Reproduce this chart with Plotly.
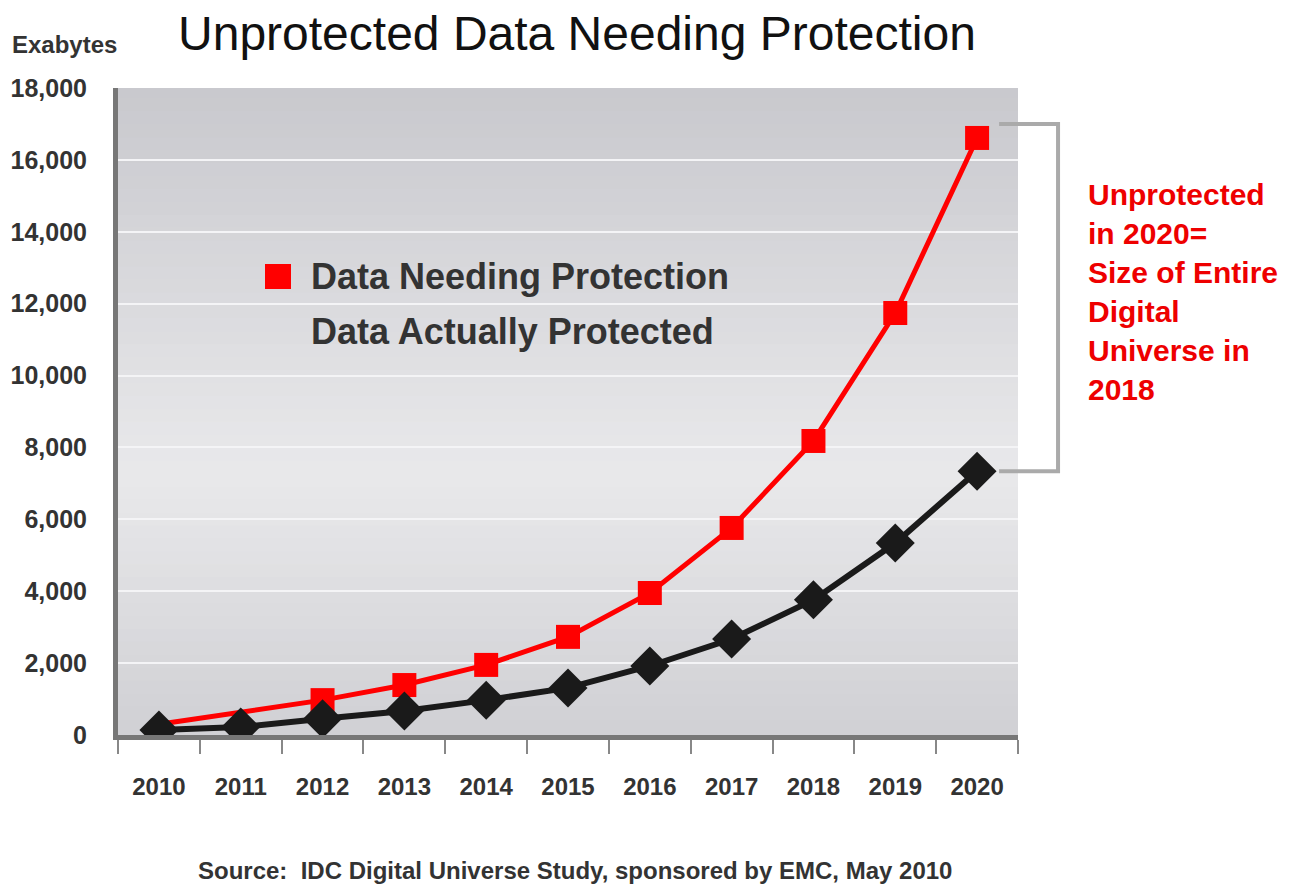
import plotly.graph_objects as go

years = ["2010", "2011", "2012", "2013", "2014", "2015", "2016", "2017", "2018", "2019", "2020"]
needing = [300, 650, 970, 1390, 1950, 2730, 3950, 5760, 8180, 11740, 16610]
protected = [140, 220, 450, 670, 970, 1310, 1920, 2670, 3760, 5340, 7340]
y_ticks = [0, 2000, 4000, 6000, 8000, 10000, 12000, 14000, 16000, 18000]
y_tick_text = ["0", "2,000", "4,000", "6,000", "8,000", "10,000", "12,000", "14,000", "16,000", "18,000"]

FONT = "Liberation Sans, Arial, sans-serif"

fig = go.Figure()
fig.add_trace(go.Scatter(
    x=years, y=needing, mode="lines+markers", name="Data Needing Protection",
    line=dict(color="#ff0000", width=5),
    marker=dict(symbol="square", size=[0, 0] + [24] * 9, color="#ff0000", opacity=1, line=dict(width=0)),
))
fig.add_trace(go.Scatter(
    x=years, y=protected, mode="lines+markers", name="Data Actually Protected",
    line=dict(color="#1a1a1a", width=6),
    marker=dict(symbol="diamond", size=30, color="#1a1a1a", opacity=1, line=dict(width=0)),
))

# gradient background bands
n = 50
def col(t):
    top = (200, 200, 205)
    mid = (233, 233, 235)
    bot = (208, 208, 212)
    if t < 0.6:
        a, b, f = top, mid, t / 0.6
    else:
        a, b, f = mid, bot, (t - 0.6) / 0.4
    return "rgb(%d,%d,%d)" % tuple(round(a[i] + (b[i] - a[i]) * f) for i in range(3))

shapes = []
for i in range(n):
    y1 = min(1, 1 - i / n + 0.004)
    y0 = 1 - (i + 1) / n
    shapes.append(dict(type="rect", xref="x domain", yref="y domain", x0=0, x1=1, y0=y0, y1=y1,
                       fillcolor=col((i + 0.5) / n), line=dict(width=0), layer="below"))

# bracket on right
shapes.append(dict(type="path", xref="paper", yref="y",
                   path="M 0.979,17000 L 1.0445,17000 L 1.0445,%d L 0.979,%d" % (protected[-1], protected[-1]),
                   line=dict(color="#aaaaaa", width=4)))
# legend marker
shapes.append(dict(type="rect", xref="paper", yref="paper", x0=0.1633, x1=0.1922, y0=0.6893, y1=0.728,
                   fillcolor="#ff0000", line=dict(width=0)))
# right frame line
shapes.append(dict(type="line", xref="paper", yref="paper", x0=1.3056, x1=1.3056, y0=-0.3, y1=1.2,
                   line=dict(color="#999999", width=2)))

fig.update_layout(
    width=1289, height=886,
    margin=dict(l=110, r=279, t=80, b=159, autoexpand=False),
    paper_bgcolor="white", plot_bgcolor="rgba(0,0,0,0)",
    showlegend=False,
    shapes=shapes,
    font=dict(family=FONT, color="#333333"),
    title=dict(text="Unprotected Data Needing Protection", x=0.4414, xanchor="center", y=0.972, yanchor="middle",
               font=dict(family=FONT, size=48, color="#111111")),
    xaxis=dict(type="category", range=[-0.5, 10.5], showgrid=False, zeroline=False, automargin=False,
               showline=True, linecolor="#777777", linewidth=5,
               ticks="outside", tickson="boundaries", ticklen=14, tickwidth=2, tickcolor="#888888",
               tickfont=dict(family=FONT, size=24, color="#333333", weight="bold"),
               ticklabelstandoff=26),
    yaxis=dict(range=[0, 18000], tickvals=y_ticks, ticktext=y_tick_text, automargin=False,
               showgrid=True, gridcolor="#f4f4f6", gridwidth=2, zeroline=False,
               showline=True, linecolor="#777777", linewidth=5, ticks="",
               tickfont=dict(family=FONT, size=25, color="#333333", weight="bold"),
               ticklabelstandoff=21),
    annotations=[
        dict(text="Exabytes", xref="paper", yref="paper", x=-0.12, y=1.068, xanchor="left", yanchor="middle",
             showarrow=False, font=dict(family=FONT, size=24, color="#333333", weight="bold")),
        dict(text="Data Needing Protection", xref="paper", yref="paper", x=0.212, y=0.7094, xanchor="left", yanchor="middle",
             showarrow=False, font=dict(family=FONT, size=36, color="#333333", weight="bold")),
        dict(text="Data Actually Protected", xref="paper", yref="paper", x=0.212, y=0.6244, xanchor="left", yanchor="middle",
             showarrow=False, font=dict(family=FONT, size=36, color="#333333", weight="bold")),
        dict(text="Unprotected<br>in 2020=<br>Size of Entire<br>Digital<br>Universe in<br>2018",
             xref="paper", yref="paper", x=1.075, y=0.864, xanchor="left", yanchor="top", align="left",
             showarrow=False, font=dict(family=FONT, size=30, color="#ee0000", weight="bold")),
        dict(text="Source:  IDC Digital Universe Study, sponsored by EMC, May 2010", xref="paper", yref="paper",
             x=0.508, y=-0.209, xanchor="center", yanchor="middle", showarrow=False,
             font=dict(family=FONT, size=24, color="#333333", weight="bold")),
    ],
)

fig.write_html("out.html")
